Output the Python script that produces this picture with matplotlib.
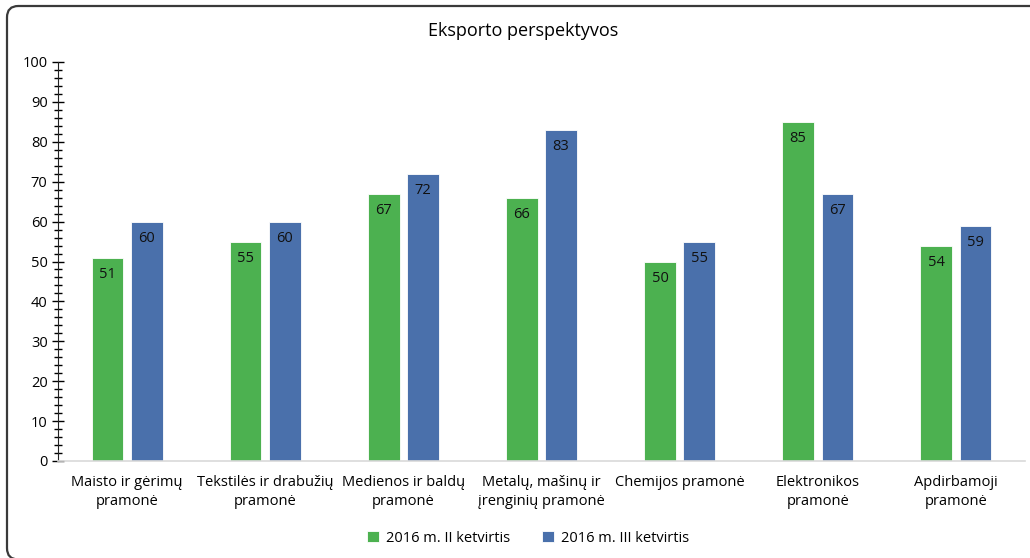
import matplotlib
matplotlib.use('Agg')
import matplotlib.pyplot as plt
from matplotlib.patches import FancyBboxPatch
from matplotlib.ticker import MultipleLocator
import numpy as np

categories = ['Maisto ir gėrimų\npramonė', 'Tekstilės ir drabužių\npramonė',
              'Medienos ir baldų\npramonė', 'Metalų, mašinų ir\nįrenginių pramonė',
              'Chemijos pramonė', 'Elektronikos\npramonė', 'Apdirbamoji\npramonė']
series_names = ['2016 m. II ketvirtis', '2016 m. III ketvirtis']
q2 = [51, 55, 67, 66, 50, 85, 54]
q3 = [60, 60, 72, 83, 55, 67, 59]
colors = ['#4CB150', '#4A70AB']

plt.rcParams['font.family'] = ['Open Sans', 'DejaVu Sans']

fig = plt.figure(figsize=(10.3, 5.58), dpi=100)
ax = fig.add_axes([58 / 1030, (558 - 461) / 558, (1025 - 58) / 1030, (461 - 62) / 558])

x = np.arange(len(categories))
w = 0.23
off = 0.142
for vals, name, c, d in [(q2, series_names[0], colors[0], -off), (q3, series_names[1], colors[1], off)]:
    bars = ax.bar(x + d, vals, w, color=c, label=name, edgecolor='white', linewidth=0.6)
    for b, v in zip(bars, vals):
        ax.text(b.get_x() + b.get_width() / 2, v - 2.3, str(v), ha='center', va='top',
                fontsize=10.5, color='#111111')

ax.set_xlim(-0.5, len(categories) - 0.5)
ax.set_ylim(0, 100)
ax.yaxis.set_major_locator(MultipleLocator(10))
ax.yaxis.set_minor_locator(MultipleLocator(2))
ax.tick_params(axis='y', which='major', direction='inout', length=9, width=1, labelsize=10.5, pad=3)
ax.tick_params(axis='y', which='minor', direction='inout', length=6, width=1)
ax.set_xticks(x)
ax.set_xticklabels(categories, fontsize=10.5, linespacing=1.4)
ax.tick_params(axis='x', length=0, pad=10)

for s in ['top', 'right']:
    ax.spines[s].set_visible(False)
ax.spines['left'].set_color('#222222')
ax.spines['bottom'].set_color('#d9d9d9')
ax.spines['bottom'].set_linewidth(1.2)

fig.text(523 / 1030, 1 - 31 / 558, 'Eksporto perspektyvos', ha='center', va='center', fontsize=13)

fig.legend(loc='center', bbox_to_anchor=(528 / 1030, 1 - 538 / 558), ncol=2, frameon=False,
           fontsize=10.5, handlelength=0.8, handleheight=0.8, columnspacing=2.2, handletextpad=0.5)

border = FancyBboxPatch((7 / 1030, -1.5 / 558), 1.1, 1 - 6 / 558 + 1.5 / 558,
                        boxstyle='round,pad=0,rounding_size=0.011', transform=fig.transFigure,
                        fill=False, edgecolor='#3a3a3a', linewidth=1.6, mutation_aspect=1030 / 558)
fig.patches.append(border)

fig.savefig('out.png', dpi=100)
